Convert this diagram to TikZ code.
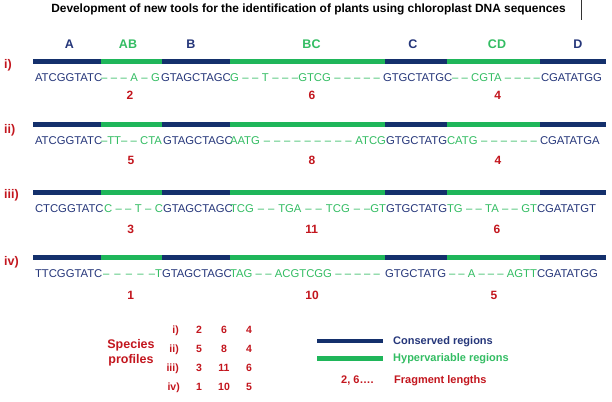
\documentclass[tikz,border=0pt]{standalone}
\usepackage{fontspec}
\setmainfont{Liberation Sans}
\definecolor{navybar}{HTML}{14306C}
\definecolor{greenbar}{HTML}{1FB65A}
\definecolor{navytxt}{HTML}{25367A}
\definecolor{greentxt}{HTML}{33BD63}
\definecolor{redtxt}{HTML}{C3161E}
\tikzset{
  seqn/.style={anchor=base west, inner sep=0pt, outer sep=0pt, text=navytxt, font=\fontsize{11.3}{13}\selectfont},
  seqg/.style={seqn, text=greentxt},
  hdr/.style={anchor=base, inner sep=0pt, font=\bfseries\fontsize{12.5}{14}\selectfont},
  rowlbl/.style={anchor=west, inner sep=0pt, text=redtxt, font=\bfseries\fontsize{12.5}{14}\selectfont},
  fraglen/.style={anchor=base, inner sep=0pt, text=redtxt, font=\bfseries\fontsize{12}{14}\selectfont},
  tabtxt/.style={anchor=base, inner sep=0pt, text=redtxt, font=\bfseries\fontsize{10.5}{12}\selectfont},
  legtxt/.style={anchor=base west, inner sep=0pt, font=\bfseries\fontsize{11}{13}\selectfont},
  barseg/.style={line width=4.5pt, line cap=butt},
}
\newcommand\gseg[5]{\node[seqg] (#1) at (#2,#3) {\makebox[#4pt][s]{#5}};}
\newcommand\nseg[4]{\node[seqn] (#1) at (#2,#3) {#4};}
\begin{document}
\begin{tikzpicture}[x=1pt,y=-1pt]
\useasboundingbox[fill=white] (0,0) rectangle (612,401);
% title
\node[anchor=base, inner sep=0pt, font=\bfseries\fontsize{11.9}{13}\selectfont] (title) at (308.5,12.5) {Development of new tools for the identification of plants using chloroplast DNA sequences};
\coordinate (vt) at (581.7,0);
\coordinate (vb) at (581.7,20);
\draw[line width=0.6pt, black!80] (vt) -- (vb);
% headers
\node[hdr, text=navytxt] (hA) at (69.5,49) {A};
\node[hdr, text=greentxt] (hAB) at (128,49) {AB};
\node[hdr, text=navytxt] (hB) at (191,49) {B};
\node[hdr, text=greentxt] (hBC) at (311.5,49) {BC};
\node[hdr, text=navytxt] (hC) at (413,49) {C};
\node[hdr, text=greentxt] (hCD) at (497,49) {CD};
\node[hdr, text=navytxt] (hD) at (578,49) {D};
% bars
\foreach \y in {61.7,124.7,192.3,257.3}{
  \draw[barseg, navybar] (33,\y) -- (101,\y);
  \draw[barseg, greenbar] (101,\y) -- (162,\y);
  \draw[barseg, navybar] (162,\y) -- (229.5,\y);
  \draw[barseg, greenbar] (229.5,\y) -- (385,\y);
  \draw[barseg, navybar] (385,\y) -- (446.5,\y);
  \draw[barseg, greenbar] (446.5,\y) -- (540,\y);
  \draw[barseg, navybar] (540,\y) -- (606,\y);
}
% row labels
\node[rowlbl] (l1) at (4,65) {i)};
\node[rowlbl] (l2) at (4,130) {ii)};
\node[rowlbl] (l3) at (4,195.5) {iii)};
\node[rowlbl] (l4) at (4,262) {iv)};
% row i
\nseg{r1a}{35}{81.5}{ATCGGTATC}
\gseg{r1b}{101}{81.5}{59}{– – – A – G}
\nseg{r1c}{161}{81.5}{GTAGCTAGC}
\gseg{r1d}{230}{81.5}{150}{G – – T – – –GTCG – – – – –}
\nseg{r1e}{383}{81.5}{GTGCTATGC}
\gseg{r1f}{452}{81.5}{88}{– – CGTA – – – –}
\nseg{r1g}{541}{81.5}{CGATATGG}
% row ii
\nseg{r2a}{35}{144}{ATCGGTATC}
\gseg{r2b}{101}{144}{61}{–TT– – CTA}
\nseg{r2c}{163}{144}{GTAGCTAGC}
\gseg{r2d}{230}{144}{156}{AATG – – – – – – – – – ATCG}
\nseg{r2e}{386}{144}{GTGCTATG}
\gseg{r2f}{447}{144}{90}{CATG – – – – – –}
\nseg{r2g}{540}{144}{CGATATGA}
% row iii
\nseg{r3a}{35}{212}{CTCGGTATC}
\gseg{r3b}{104}{212}{59}{C – – T – C}
\nseg{r3c}{163}{212}{GTAGCTAGC}
\gseg{r3d}{230}{212}{156}{TCG – – TGA – – TCG – –GT}
\nseg{r3e}{386}{212}{GTGCTATG}
\gseg{r3f}{447}{212}{90}{TG – – TA – – GT}
\nseg{r3g}{537}{212}{CGATATGT}
% row iv
\nseg{r4a}{35}{277}{TTCGGTATC}
\gseg{r4b}{103}{277}{59}{– – – – –T}
\nseg{r4c}{162}{277}{GTAGCTAGC}
\gseg{r4d}{230}{277}{150}{TAG – – ACGTCGG – – – – –}
\nseg{r4e}{385}{277}{GTGCTATG}
\gseg{r4f}{449}{277}{88}{– – A – – – AGTT}
\nseg{r4g}{537}{277}{CGATATGG}
% fragment lengths
\node[fraglen] (n1a) at (130,99.5) {2};
\node[fraglen] (n1b) at (312,99.5) {6};
\node[fraglen] (n1c) at (497.7,99.5) {4};
\node[fraglen] (n2a) at (131,164) {5};
\node[fraglen] (n2b) at (312,164) {8};
\node[fraglen] (n2c) at (498,164) {4};
\node[fraglen] (n3a) at (130.7,233.5) {3};
\node[fraglen] (n3b) at (311.7,233.5) {11};
\node[fraglen] (n3c) at (497,233.5) {6};
\node[fraglen] (n4a) at (130.7,299) {1};
\node[fraglen] (n4b) at (312,299) {10};
\node[fraglen] (n4c) at (494,299) {5};
% species profiles
\node[anchor=base, inner sep=0pt, text=redtxt, font=\bfseries\fontsize{12.5}{14}\selectfont] (sp1) at (131,348.5) {Species};
\node[anchor=base, inner sep=0pt, text=redtxt, font=\bfseries\fontsize{12.5}{14}\selectfont] (sp2) at (131,363) {profiles};
\node[tabtxt, anchor=base east] (t1) at (179,333.5) {i)};
\node[tabtxt, anchor=base east] (t2) at (179,352.5) {ii)};
\node[tabtxt, anchor=base east] (t3) at (179,371.5) {iii)};
\node[tabtxt, anchor=base east] (t4) at (180,390.5) {iv)};
\node[tabtxt] (t1a) at (199,333.5) {2};
\node[tabtxt] (t1b) at (224,333.5) {6};
\node[tabtxt] (t1c) at (249,333.5) {4};
\node[tabtxt] (t2a) at (199,352.5) {5};
\node[tabtxt] (t2b) at (224,352.5) {8};
\node[tabtxt] (t2c) at (249,352.5) {4};
\node[tabtxt] (t3a) at (199,371.5) {3};
\node[tabtxt] (t3b) at (224,371.5) {11};
\node[tabtxt] (t3c) at (249,371.5) {6};
\node[tabtxt] (t4a) at (199,390.5) {1};
\node[tabtxt] (t4b) at (224,390.5) {10};
\node[tabtxt] (t4c) at (249,390.5) {5};
% legend
\coordinate (lc1) at (317,341);
\coordinate (lc2) at (383,341);
\coordinate (lh1) at (317,358.3);
\coordinate (lh2) at (383,358.3);
\draw[barseg, navybar] (lc1) -- (lc2);
\draw[barseg, greenbar] (lh1) -- (lh2);
\node[legtxt, text=navytxt] (legc) at (393,344) {Conserved regions};
\node[legtxt, text=greentxt] (legh) at (393,361.5) {Hypervariable regions};
\node[legtxt, text=redtxt] (legfn) at (341,383) {2, 6….};
\node[legtxt, text=redtxt] (legf) at (394,383) {Fragment lengths};
\end{tikzpicture}
\end{document}
